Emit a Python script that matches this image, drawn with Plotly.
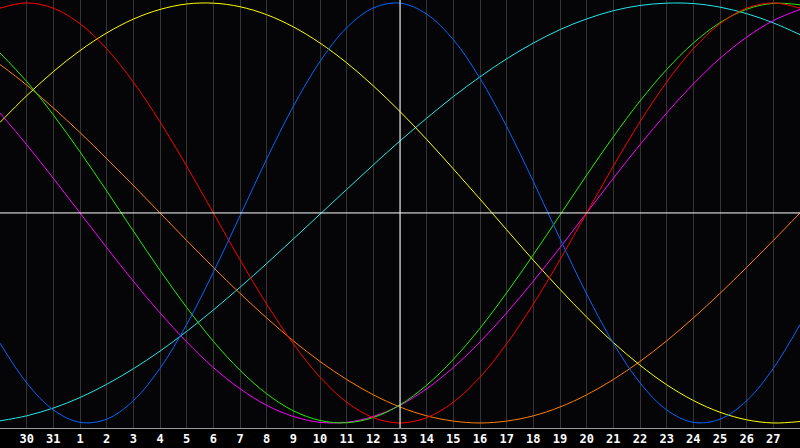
import plotly.graph_objects as go

# day labels along the bottom, one per gridline (first and last day sit on the frame)
days = [29, 30, 31, 1, 2, 3, 4, 5, 6, 7, 8, 9, 10, 11, 12, 13, 14,
        15, 16, 17, 18, 19, 20, 21, 22, 23, 24, 25, 26, 27, 28]
today_idx = 15   # day 13, the white marker line

# cycle values, one per day (-1 .. 1)
physical = [-0.620, -0.809, -0.938, -0.997, -0.982, -0.894, -0.740, -0.531, -0.283, -0.014, 0.257,
            0.508, 0.721, 0.882, 0.976, 0.999, 0.947, 0.825, 0.641, 0.411, 0.150, -0.123,
            -0.386, -0.620, -0.809, -0.938, -0.997, -0.982, -0.894, -0.740, -0.531]
emotional = [0.975, 1.000, 0.975, 0.901, 0.782, 0.623, 0.434, 0.223, 0.000, -0.223, -0.434,
             -0.623, -0.782, -0.901, -0.975, -1.000, -0.975, -0.901, -0.782, -0.623, -0.434, -0.223,
             0.000, 0.223, 0.434, 0.623, 0.782, 0.901, 0.975, 1.000, 0.975]
intellectual = [0.762, 0.626, 0.467, 0.291, 0.105, -0.086, -0.273, -0.450, -0.611, -0.749, -0.861,
                -0.942, -0.988, -0.999, -0.974, -0.914, -0.820, -0.697, -0.549, -0.380, -0.199, -0.010,
                0.180, 0.363, 0.533, 0.683, 0.809, 0.906, 0.970, 0.998, 0.991]
intuitive = [0.476, 0.325, 0.165, 0.000, -0.165, -0.325, -0.476, -0.614, -0.736, -0.837, -0.916,
             -0.969, -0.997, -0.997, -0.969, -0.916, -0.837, -0.736, -0.614, -0.476, -0.325, -0.165,
             0.000, 0.165, 0.325, 0.476, 0.614, 0.736, 0.837, 0.916, 0.969]
aesthetic = [0.431, 0.558, 0.673, 0.773, 0.857, 0.923, 0.969, 0.995, 0.999, 0.982, 0.944,
             0.886, 0.809, 0.715, 0.605, 0.483, 0.350, 0.210, 0.066, -0.080, -0.225, -0.364,
             -0.496, -0.617, -0.725, -0.818, -0.893, -0.949, -0.985, -1.000, -0.993]
awareness = [0.707, 0.609, 0.500, 0.383, 0.259, 0.131, 0.000, -0.131, -0.259, -0.383, -0.500,
             -0.609, -0.707, -0.793, -0.866, -0.924, -0.966, -0.991, -1.000, -0.991, -0.966, -0.924,
             -0.866, -0.793, -0.707, -0.609, -0.500, -0.383, -0.259, -0.131, 0.000]
spiritual = [-0.990, -0.966, -0.929, -0.879, -0.816, -0.742, -0.658, -0.564, -0.462, -0.354, -0.241,
             -0.124, -0.006, 0.112, 0.229, 0.343, 0.451, 0.554, 0.648, 0.734, 0.809, 0.873,
             0.924, 0.963, 0.988, 0.999, 0.997, 0.980, 0.949, 0.905, 0.849]

cycles = [
    ('Spiritual', spiritual, '#22e8e8'),
    ('Awareness', awareness, '#ff7f00'),
    ('Aesthetic', aesthetic, '#ffff00'),
    ('Intuitive', intuitive, '#ff00ff'),
    ('Intellectual', intellectual, '#22ee00'),
    ('Emotional', emotional, '#ff0000'),
    ('Physical', physical, '#0066ff'),
]

idx = list(range(len(days)))

fig = go.Figure()
for name, vals, col in cycles:
    fig.add_trace(go.Scatter(x=idx, y=vals, mode='lines', name=name,
                             line=dict(color=col, width=1, shape='spline',
                                       smoothing=1.0, simplify=False)))

fig.add_hline(y=0, line_color='white', line_width=1)
fig.add_vline(x=today_idx, line_color='white', line_width=1)

fig.update_xaxes(range=[0, len(days) - 1],
                 tickvals=idx[1:-1], ticktext=['<b>%d</b>' % d for d in days[1:-1]],
                 showgrid=True, gridcolor='#343434', gridwidth=1,
                 zeroline=False, ticks='', showline=True, linecolor='#9a9a9a',
                 mirror=True,
                 tickfont=dict(family='DejaVu Sans Mono', size=12, color='white'))
fig.update_yaxes(range=[-1.024, 1.014], showgrid=False, zeroline=False,
                 showticklabels=False, showline=True, linecolor='#9a9a9a', mirror=True)

fig.update_layout(width=800, height=448, margin=dict(l=0, r=0, t=0, b=20),
                  paper_bgcolor='#000000', plot_bgcolor='#050508',
                  showlegend=False, font=dict(family='DejaVu Sans Mono', color='white'))

# page body has an 8px default margin; drop it so the plot sits at the corner
fig.write_html("out.html", config={'displayModeBar': False},
               post_script="document.body.style.margin='0';")
